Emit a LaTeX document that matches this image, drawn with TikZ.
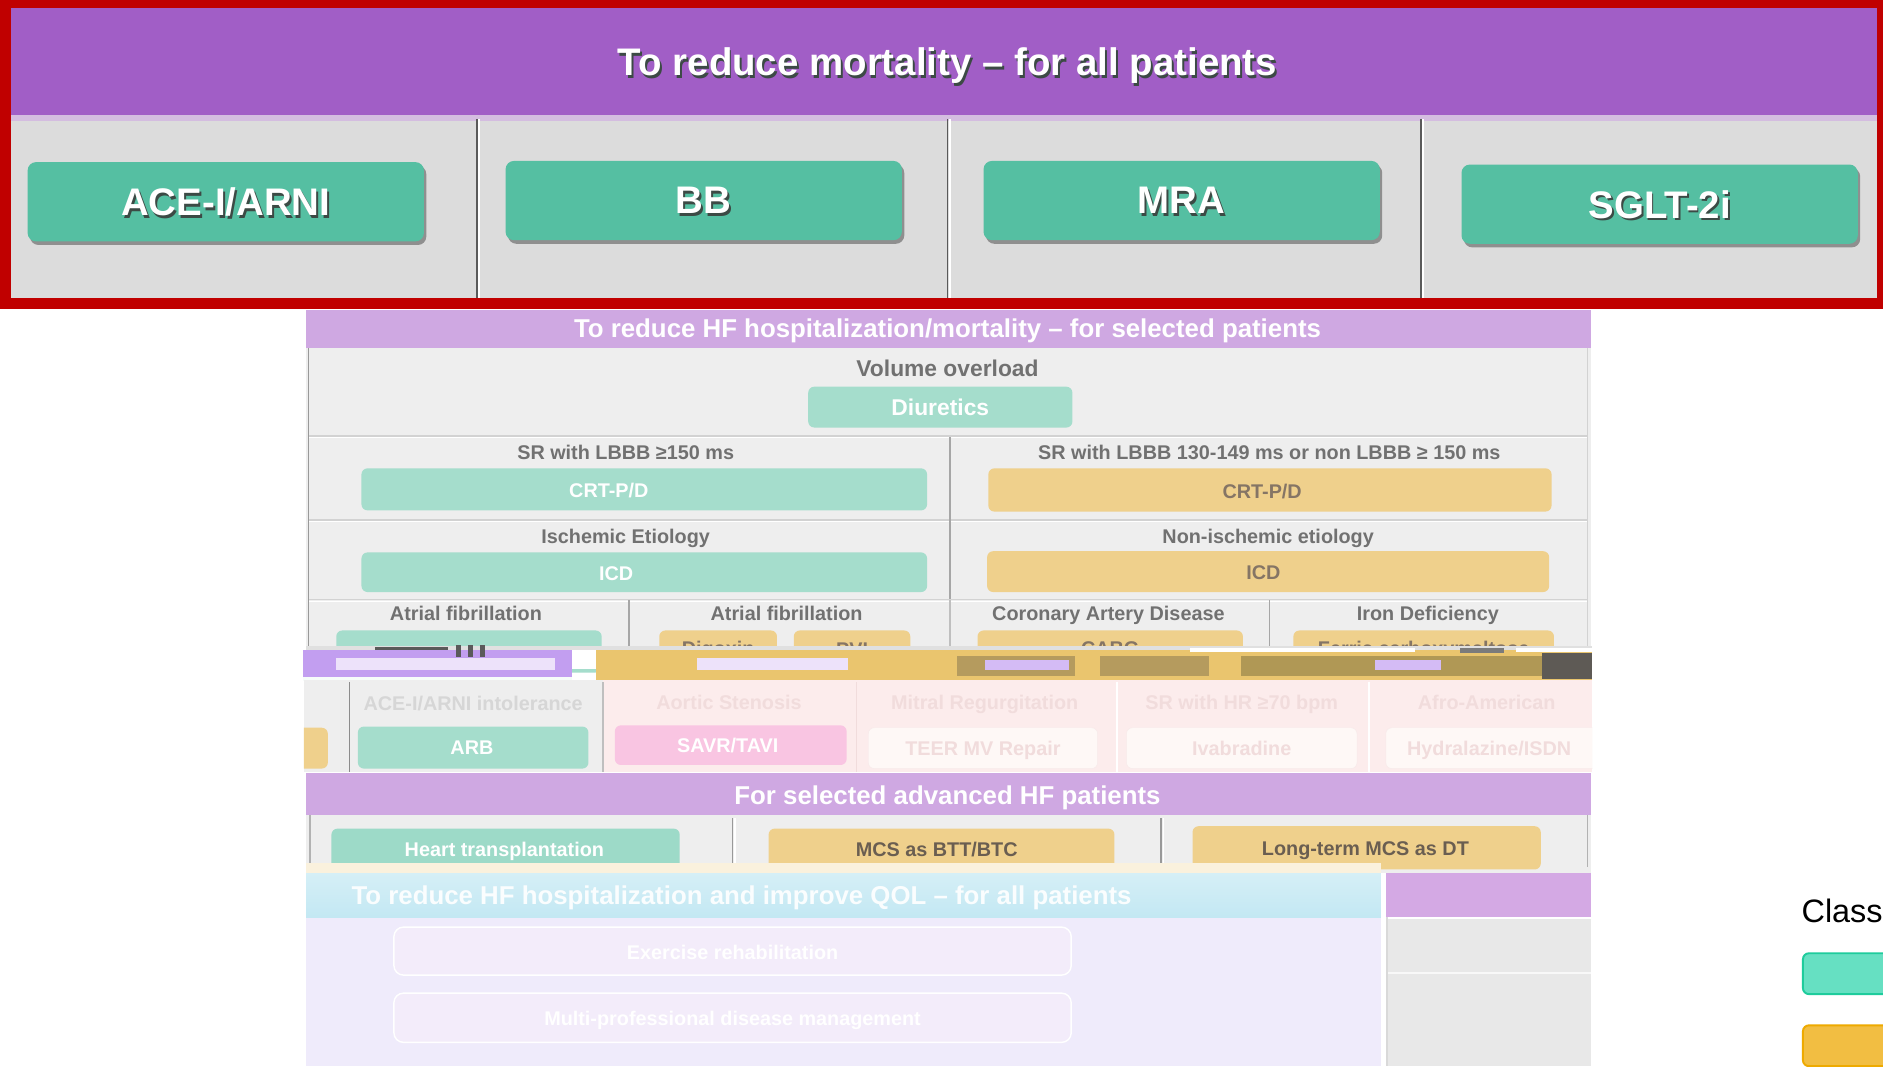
\documentclass[tikz,border=0pt]{standalone}
\usepackage{fontspec}
\setmainfont{Liberation Sans}
\usetikzlibrary{shadows}

\definecolor{redframe}{HTML}{C00000}
\definecolor{hdrpurple}{HTML}{A15EC6}
\definecolor{topgray}{HTML}{DCDCDC}
\definecolor{btngreen}{HTML}{55BFA2}
\definecolor{divdark}{HTML}{5A5A5A}
\definecolor{txtshadow}{HTML}{3C4A45}
\definecolor{hdrlight}{HTML}{CFA8E2}
\definecolor{rowgray}{HTML}{EEEEEE}
\definecolor{lineg}{HTML}{D2D2D2}
\definecolor{condtext}{HTML}{717171}
\definecolor{lteal}{HTML}{A5DDCC}
\definecolor{lyellow}{HTML}{EFD08C}
\definecolor{yeltext}{HTML}{857565}
\definecolor{pinkbg}{HTML}{FCECEC}
\definecolor{savr}{HTML}{F9C5E2}
\definecolor{palebox}{HTML}{FEF8F6}
\definecolor{faintpink}{HTML}{F1DCDC}
\definecolor{faintgray}{HTML}{D6D6D6}
\definecolor{cyanhdr}{HTML}{C3E8F3}
\definecolor{lavbg}{HTML}{EFEBFB}
\definecolor{lavbox}{HTML}{F3ECFA}
\definecolor{righthdr}{HTML}{D4A9E4}
\definecolor{rightgray}{HTML}{E8E8E8}
\definecolor{glitchlav}{HTML}{C29EF0}
\definecolor{glitchyel}{HTML}{EAC56E}
\definecolor{glitchbrown}{HTML}{B59B5E}
\definecolor{glitchdark}{HTML}{5E5A55}
\definecolor{legendgreen}{HTML}{66E0C2}
\definecolor{legendgreenb}{HTML}{1ECC9C}
\definecolor{legendyel}{HTML}{F2BE42}
\definecolor{legendyelb}{HTML}{EEAA00}

% white label with a dark offset copy underneath
\newcommand\shadowed[1]{\rlap{\kern1.6pt\raisebox{-2pt}{\textcolor{txtshadow}{#1}}}#1}
\newcommand\bigbold{\fontsize{32}{38}\selectfont\bfseries}
\newcommand\hdrbold{\fontsize{21.5}{26}\selectfont\bfseries}
\newcommand\midbold{\fontsize{16.5}{20}\selectfont\bfseries}

\begin{document}
\begin{tikzpicture}[x=1pt,y=-1pt,
  greenbtn/.style={rounded corners=7pt, fill=btngreen, minimum width=330pt,
    minimum height=66pt, inner sep=0pt, text=white, font=\bigbold, text depth=0pt,
    drop shadow={shadow xshift=2pt, shadow yshift=-3pt, opacity=0.35, fill=black}},
  cond/.style={text=condtext, font=\midbold, inner sep=0pt, text depth=0pt},
  faintlbl/.style={font=\midbold, inner sep=0pt, text depth=0pt},
  tealbox/.style={rounded corners=5pt, fill=lteal, inner sep=0pt},
  yelbox/.style={rounded corners=5pt, fill=lyellow, inner sep=0pt},
  boxtxt/.style={font=\midbold, inner sep=0pt, text depth=0pt},
  hdrtxt/.style={text=white, font=\hdrbold, inner sep=0pt, text depth=0pt}
]
\useasboundingbox (0,0) rectangle (1568,888);
\fill[white] (0,0) rectangle (1568,888);

% ---------- mortality panel ----------
\fill[redframe] (0,0) rectangle (1568,257);
\fill[topgray] (9,96) rectangle (1563,248);
\fill[hdrpurple] (9,7) rectangle (1563,96);
\fill[hdrlight!60!topgray] (9,96) rectangle (1563,101);
\node[text=white, font=\bigbold, inner sep=0pt, text depth=0pt] (title1) at (789,51.5)
  {\shadowed{To reduce mortality -- for all patients}};
\foreach \dx in {397,789,1183}{
  \draw[divdark, line width=1.6pt] (\dx,99) -- (\dx,248);
  \draw[white, line width=1.2pt] (\dx+2,99) -- (\dx+2,248);
}
\node[greenbtn] (acei) at (188,168) {\shadowed{ACE-I/ARNI}};
\node[greenbtn] (bb) at (586,167) {\shadowed{BB}};
\node[greenbtn] (mra) at (984,167) {\shadowed{MRA}};
\node[greenbtn] (sglt) at (1382,170) {\shadowed{SGLT-2i}};

% ---------- selected patients panel ----------
\fill[hdrlight] (255,258) rectangle (1325,290);
\node[hdrtxt] (title2) at (789,273.5)
  {To reduce HF hospitalization/mortality -- for selected patients};
\fill[rowgray] (255,290) rectangle (1325,541);
\draw[lineg, line width=1pt] (257,363) -- (1322,363) (257,433) -- (1322,433) (257,499) -- (1322,499);
\draw[white, line width=0.8pt] (257,364.5) -- (1322,364.5) (257,434.5) -- (1322,434.5) (257,500.5) -- (1322,500.5);
\draw[black!40, line width=1.4pt] (257,290) -- (257,541);
\draw[lineg, line width=1.2pt] (1322,290) -- (1322,541);
\draw[black!35, line width=1.4pt] (791,364) -- (791,499);
\draw[black!35, line width=1.4pt] (524,500) -- (524,541) (1057,500) -- (1057,541);
\draw[black!25, line width=1.2pt] (791,500) -- (791,541);

\node[cond, font=\fontsize{19}{23}\selectfont\bfseries] (vol) at (789,306.5) {Volume overload};
\node[tealbox, minimum width=220pt, minimum height=34pt] (diur) at (783,339) {};
\node[boxtxt, text=white, font=\fontsize{19}{23}\selectfont\bfseries] (diurt) at (783,339.5) {Diuretics};

\node[cond] (lbbbA) at (521,377) {SR with LBBB ≥150 ms};
\node[tealbox, minimum width=471pt, minimum height=35pt] (crtA) at (536.5,407.5) {};
\node[boxtxt, text=white] (crtAt) at (507,408.5) {CRT-P/D};
\node[cond] (lbbbB) at (1057,377) {SR with LBBB 130-149 ms or non LBBB ≥ 150 ms};
\node[yelbox, minimum width=469pt, minimum height=36pt] (crtB) at (1057.5,408) {};
\node[boxtxt, text=yeltext] (crtBt) at (1051,409) {CRT-P/D};

\node[cond] (isch) at (521,447) {Ischemic Etiology};
\node[tealbox, minimum width=471pt, minimum height=33pt] (icdA) at (536.5,476.5) {};
\node[boxtxt, text=white] (icdAt) at (513,477.5) {ICD};
\node[cond] (nonisch) at (1056,447) {Non-ischemic etiology};
\node[yelbox, minimum width=468pt, minimum height=34pt] (icdB) at (1056,476) {};
\node[boxtxt, text=yeltext] (icdBt) at (1052,476.5) {ICD};

\node[cond] (afA) at (388,510.5) {Atrial fibrillation};
\node[cond] (afB) at (655,510.5) {Atrial fibrillation};
\node[cond] (cad) at (923,510.5) {Coronary Artery Disease};
\node[cond] (iron) at (1189,510.5) {Iron Deficiency};
\node[tealbox, minimum width=221pt, minimum height=35pt] (anticoag) at (390.5,542.5) {};
\node[boxtxt, text=white] (anticoagt) at (390.5,546) {Anticoagulation};
\node[yelbox, minimum width=98pt, minimum height=35pt] (digox) at (598,542.5) {};
\node[boxtxt, text=yeltext] (digoxt) at (598,540) {Digoxin};
\node[yelbox, minimum width=97pt, minimum height=35pt] (pvi) at (709.5,542.5) {};
\node[boxtxt, text=yeltext] (pvit) at (709.5,541) {PVI};
\node[yelbox, minimum width=221pt, minimum height=35pt] (cabg) at (924.5,542.5) {};
\node[boxtxt, text=yeltext] (cabgt) at (924.5,540) {CABG};
\node[yelbox, minimum width=217pt, minimum height=35pt] (fcm) at (1185.5,542.5) {};
\node[boxtxt, text=yeltext] (fcmt) at (1185.5,540) {Ferric carboxymaltose};

% torn strip across the panel
\fill[black!12] (255,538) rectangle (1326,541.5);
\fill[glitchlav] (252,541) rectangle (476,565);
\fill[white] (476,541) rectangle (496,557);
\fill[glitchyel] (496,541) rectangle (1326,566);
\fill[glitchbrown] (797,546) rectangle (895,563);
\fill[glitchbrown] (916,546) rectangle (1007,563);
\fill[glitchbrown!90!olive] (1033,546) rectangle (1284,563);
\fill[glitchdark] (1284,544) rectangle (1326,565);
\fill[white!90!lteal] (252,564) rectangle (476,567);
\fill[divdark] (312,539) rectangle (373,541.5);
\fill[divdark] (380,537) rectangle (384,547);
\fill[divdark] (390,537) rectangle (394,547);
\fill[divdark] (400,537) rectangle (404,547);
\fill[white] (991,539.5) rectangle (1178,543);
\fill[divdark!80] (1216,539.5) rectangle (1252,543.5);
\fill[white] (1262,539.5) rectangle (1326,543);
\fill[white!70!glitchlav] (280,548) rectangle (462,558);
\fill[white!70!glitchlav] (580,548) rectangle (706,558);
\fill[glitchlav!70] (820,550) rectangle (890,558);
\fill[glitchlav!70] (1145,550) rectangle (1200,558);

% row of further indications
\begin{scope}
\clip (253,566) rectangle (1326,643);
\fill[rowgray] (253,566) rectangle (502,643);
\fill[pinkbg] (502,566) rectangle (1326,643);
\draw[black!45, line width=1.4pt] (291,568) -- (291,643);
\draw[black!25, line width=1.2pt] (502,568) -- (502,643);
\draw[faintpink, line width=1.2pt] (713,568) -- (713,643);
\draw[white, line width=1.4pt] (930,568) -- (930,643) (1140,568) -- (1140,643);
\fill[lyellow, rounded corners=5pt] (240,606) rectangle (273,640);

\node[faintlbl, text=faintgray] (aceint) at (394,586) {ACE-I/ARNI intolerance};
\node[tealbox, minimum width=192pt, minimum height=35pt] (arb) at (394,622.5) {};
\node[boxtxt, text=white] (arbt) at (393,622.5) {ARB};
\node[faintlbl, text=faintpink] (aos) at (607,585) {Aortic Stenosis};
\node[rounded corners=5pt, fill=savr, minimum width=193pt, minimum height=33pt, inner sep=0pt] (savrbox) at (608.5,620.5) {};
\node[boxtxt, text=white] (savrt) at (606,620.5) {SAVR/TAVI};
\node[faintlbl, text=faintpink] (mitral) at (820,585) {Mitral Regurgitation};
\node[rounded corners=5pt, fill=palebox, draw=faintpink!60, minimum width=191pt, minimum height=34pt, inner sep=0pt] (teer) at (818.5,623) {};
\node[boxtxt, text=faintpink] (teert) at (818.5,623) {TEER MV Repair};
\node[faintlbl, text=faintpink] (hrsr) at (1034,585) {SR with HR ≥70 bpm};
\node[rounded corners=5pt, fill=palebox, draw=faintpink!60, minimum width=192pt, minimum height=34pt, inner sep=0pt] (ivab) at (1034,623) {};
\node[boxtxt, text=faintpink] (ivabt) at (1034,623) {Ivabradine};
\node[faintlbl, text=faintpink] (afro) at (1238,585) {Afro-American};
\node[rounded corners=5pt, fill=palebox, draw=faintpink!60, minimum width=190pt, minimum height=34pt, inner sep=0pt] (hisdn) at (1249,623) {};
\node[boxtxt, text=faintpink] (hisdnt) at (1240,623) {Hydralazine/ISDN};
\end{scope}

% ---------- advanced HF panel ----------
\fill[hdrlight] (255,644) rectangle (1325,679);
\node[hdrtxt] (title3) at (789,662) {For selected advanced HF patients};
\fill[rowgray] (255,679) rectangle (1325,728);
\draw[black!30, line width=1.2pt] (258,679) -- (258,722) (1322,679) -- (1322,722);
\draw[black!40, line width=1.4pt] (610,681) -- (610,722) (967,681) -- (967,722);
\draw[white, line width=1pt] (612,681) -- (612,722) (969,681) -- (969,722);
\node[tealbox, fill=lteal!90!btngreen, minimum width=290pt, minimum height=36pt] (htx) at (421,708) {};
\node[boxtxt, text=white] (htxt) at (420,707.5) {Heart transplantation};
\node[yelbox, minimum width=288pt, minimum height=36pt] (mcsA) at (784,708) {};
\node[boxtxt, text=yeltext!80!black] (mcsAt) at (780,707.5) {MCS as BTT/BTC};
\node[yelbox, minimum width=290pt, minimum height=36pt] (mcsB) at (1138,706) {};
\node[boxtxt, text=yeltext!80!black] (mcsBt) at (1137,706.5) {Long-term MCS as DT};
\fill[lyellow!30!white] (255,719) rectangle (1150,727);

% ---------- QOL panel ----------
\fill[lavbg] (255,727) rectangle (1150,888);
\shade[top color=cyanhdr!70!white, bottom color=cyanhdr] (255,727) rectangle (1150,764);
\node[hdrtxt, text=white!92!cyanhdr] (title4) at (617.5,745)
  {To reduce HF hospitalization and improve QOL -- for all patients};
\node[rounded corners=8pt, fill=lavbox, draw=white, line width=1.2pt, minimum width=564pt, minimum height=40pt, inner sep=0pt] (exrehab) at (610,792) {};
\node[boxtxt, text=white] (exrehabt) at (610,793) {Exercise rehabilitation};
\node[rounded corners=8pt, fill=lavbox, draw=white, line width=1.2pt, minimum width=564pt, minimum height=41pt, inner sep=0pt] (multid) at (610,847.5) {};
\node[boxtxt, text=white] (multidt) at (610,848) {Multi-professional disease management};
\fill[white] (1150,727) rectangle (1154,888);
\fill[rightgray] (1154,765) rectangle (1325,888);
\fill[righthdr] (1154,727) rectangle (1325,764);
\draw[white!70!rightgray, line width=1.4pt] (1154,810) -- (1325,810);
\draw[black!15, line width=1pt] (1155,764) -- (1155,888);

% ---------- legend ----------
\node[anchor=base west, inner sep=0pt, font=\fontsize{27}{32}\selectfont] (classlbl) at (1500,768) {Class};
\node[draw=legendgreenb, fill=legendgreen, line width=1.6pt, rounded corners=5pt, anchor=north west, minimum width=90pt, minimum height=34pt, inner sep=0pt] (legA) at (1500.5,793) {};
\node[draw=legendyelb, fill=legendyel, line width=1.6pt, rounded corners=5pt, anchor=north west, minimum width=90pt, minimum height=34pt, inner sep=0pt] (legB) at (1500.5,853) {};
\end{tikzpicture}
\end{document}
